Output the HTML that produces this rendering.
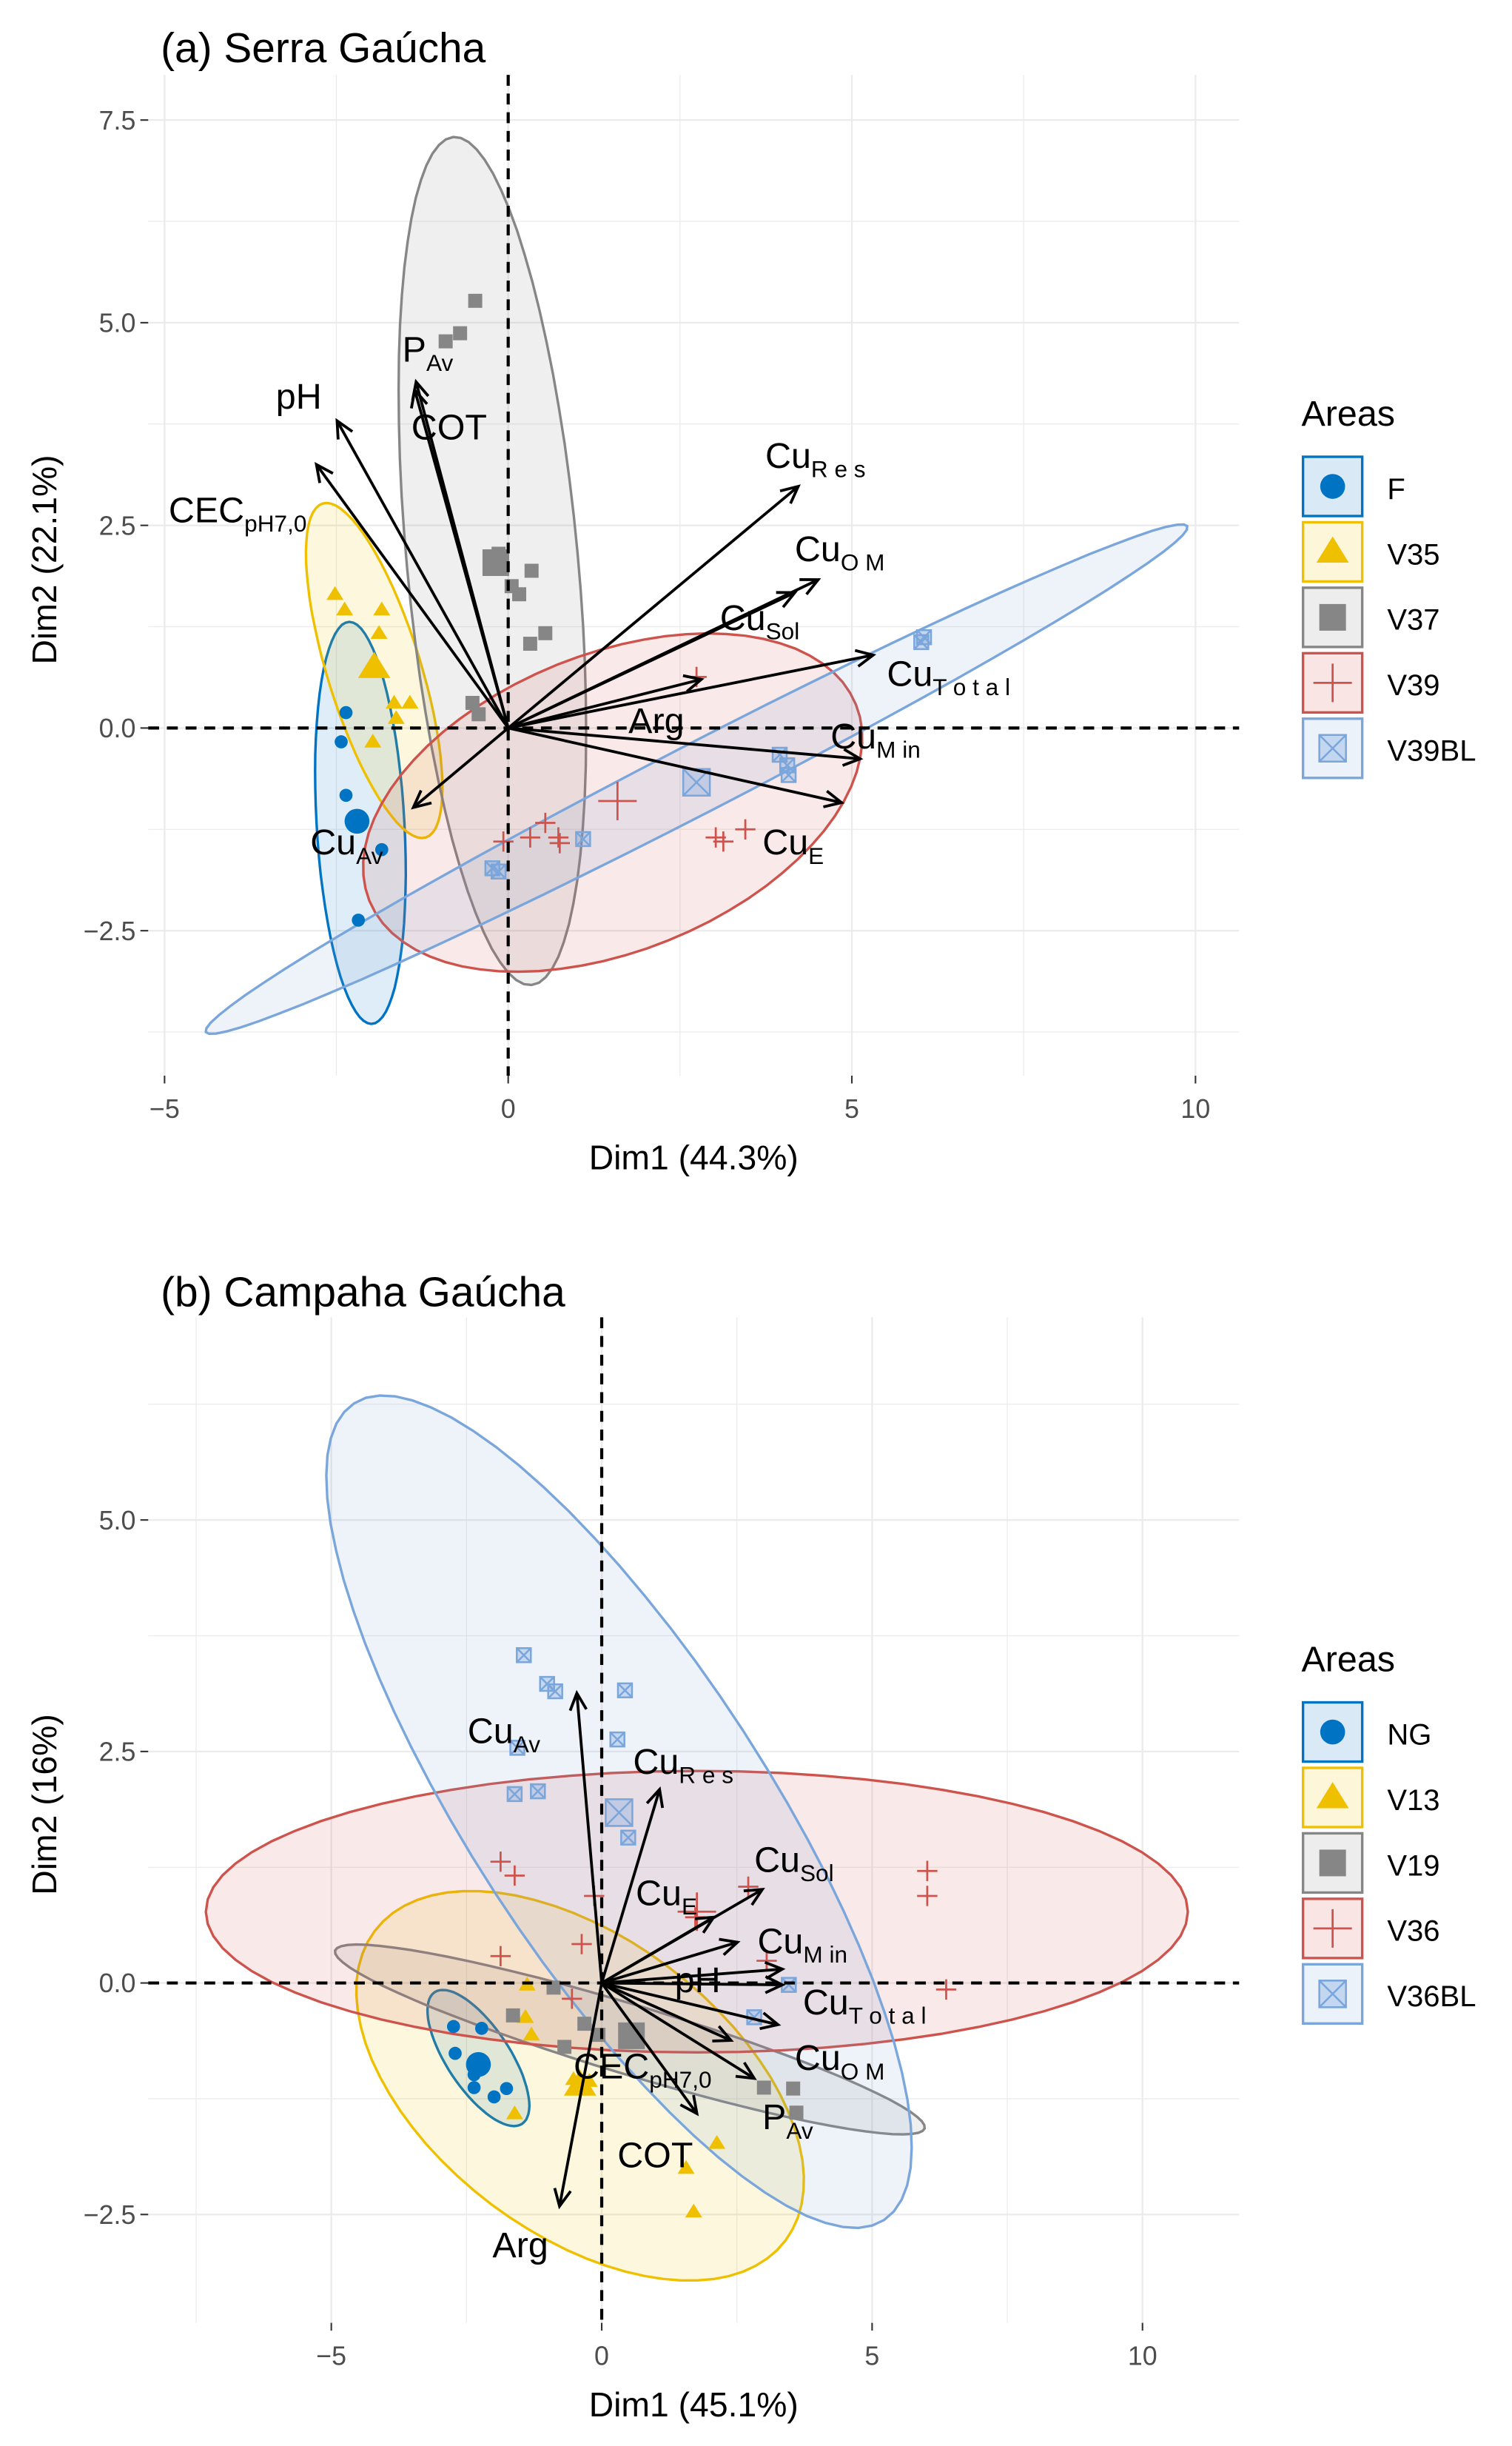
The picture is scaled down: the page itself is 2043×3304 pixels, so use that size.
<!DOCTYPE html>
<html><head><meta charset="utf-8"><style>
html,body{margin:0;padding:0;background:#fff}
svg{display:block;font-family:"Liberation Sans",sans-serif}
</style></head><body>
<svg id="s" width="2043" height="3304" viewBox="0 0 970 1569" xmlns="http://www.w3.org/2000/svg"></svg>
<script>
// ---------- DATA ----------
const groupsA=["F","V35","V37","V39","V39BL"];
const groupsB=["NG","V13","V19","V36","V36BL"];
const colors=["#0073C2","#EFC000","#868686","#CD534C","#7AA6DC"];
const shapes=["circle","triangle","square","cross","sqx"];
// panel A points [x,y]
const ptsA_F=[[-2.36,0.19],[-2.43,-0.17],[-2.36,-0.83],[-1.84,-1.50],[-2.18,-2.37]];
const ptsA_V35=[[-2.52,1.65],[-2.38,1.46],[-1.84,1.46],[-1.88,1.17],[-1.66,0.31],[-1.43,0.31],[-1.63,0.12],[-1.97,-0.17]];
const ptsA_V37=[[-0.48,5.27],[-0.70,4.87],[-0.91,4.77],[-0.14,2.15],[0.34,1.94],[0.05,1.75],[0.16,1.65],[0.54,1.17],[0.32,1.04],[-0.52,0.31],[-0.43,0.17]];
const ptsA_V39=[[2.74,0.63],[-0.07,-1.40],[0.32,-1.35],[0.54,-1.17],[0.73,-1.35],[0.75,-1.42],[3.02,-1.35],[3.13,-1.40],[3.45,-1.25]];
const ptsA_V39BL=[[6.01,1.06],[6.05,1.12],[3.95,-0.33],[4.06,-0.46],[4.08,-0.58],[1.09,-1.37],[-0.23,-1.73],[-0.14,-1.77]];
const meansA=[[-2.20,-1.15],[-1.95,0.75],[-0.18,2.04],[1.59,-0.90],[2.74,-0.67]];
// ellipses: center, axis vector 1, axis vector 2 (data units)
const ellA_center=[[-2.15,-1.17],[-1.95,0.71],[-0.23,2.06],[1.52,-0.92],[2.74,-0.63]];
const ellA_ax1=[[-0.16,2.48],[-0.75,2.06],[-0.57,5.23],[3.54,1.21],[7.14,3.12]];
const ellA_ax2=[[0.64,0],[0.65,0.17],[1.24,0.10],[0.81,-1.70],[0.23,-0.38]];
// variables arrows
const varsA=["pH","CEC","PAv","COT","CuRes","CuOM","CuSol","CuTotal","Arg","CuMin","CuE","CuAv"];
const arrA=[[-2.49,3.79],[-2.79,3.25],[-1.34,4.27],[-1.36,4.17],[4.22,2.98],[4.51,1.83],[4.17,1.67],[5.31,0.90],[2.81,0.60],[5.12,-0.38],[4.85,-0.92],[-1.38,-0.98]];
const labA=[[-3.38,3.94],[-4.94,2.54],[-1.54,4.52],[-1.41,3.56],[3.74,3.21],[4.17,2.06],[3.08,1.21],[5.51,0.52],[1.75,-0.06],[4.69,-0.25],[3.70,-1.56],[-2.88,-1.56]];
// panel B
const ptsB_NG=[[-2.74,-0.47],[-2.22,-0.49],[-2.71,-0.76],[-2.36,-1.13],[-1.99,-1.23],[-1.76,-1.14],[-2.36,-0.99]];
const ptsB_V13=[[-1.38,-0.02],[-1.41,-0.37],[-1.30,-0.56],[-0.52,-1.04],[-0.23,-1.06],[-1.61,-1.41],[2.13,-1.73],[1.56,-2.00],[1.70,-2.47]];
const ptsB_V19=[[-0.89,-0.05],[-1.64,-0.35],[-0.32,-0.44],[-0.06,-0.56],[-0.69,-0.69],[3.00,-1.13],[3.54,-1.14],[3.60,-1.40]];
const ptsB_V36=[[-1.87,1.31],[-1.61,1.16],[-0.14,0.94],[2.71,1.04],[1.73,0.71],[-0.37,0.42],[-1.87,0.29],[-0.55,-0.17],[3.05,0.24],[6.02,1.21],[6.02,0.94],[6.37,-0.07]];
const ptsB_V36BL=[[-1.44,3.54],[-1.01,3.23],[-0.86,3.15],[0.43,3.16],[-1.56,2.54],[0.29,2.63],[-1.61,2.04],[-1.18,2.07],[0.49,1.57],[3.46,-0.02],[2.82,-0.37]];
const meansB=[[-2.28,-0.88],[-0.40,-1.10],[0.55,-0.57],[1.76,0.77],[0.32,1.84]];
const ellB_center=[[-2.28,-0.81],[-0.40,-1.11],[0.52,-0.61],[1.76,0.77],[0.32,1.85]];
const ellB_ax1=[[0.81,-0.71],[3.80,-1.67],[5.45,-0.96],[9.08,0],[-4.90,4.41]];
const ellB_ax2=[[0.48,0.19],[-1.64,-1.28],[-0.18,-0.36],[0,1.52],[2.30,0.87]];
const varsB=["CuAv","CuRes","CuE","CuSol","CuMin","pH","CuTotal","CuOM","X","CEC","COT","Arg"];
const arrB=[[-0.46,3.13],[1.07,2.09],[2.07,0.71],[2.97,1.01],[2.51,0.44],[3.34,0.15],[3.34,-0.02],[3.26,-0.45],[2.39,-0.62],[2.82,-1.03],[1.76,-1.41],[-0.78,-2.41]];
const labNamesB=["CuAv","CuRes","CuE","CuSol","CuMin","pH","CuTotal","CuOM","CEC","PAv","COT","Arg"];
const labB=[[-2.48,2.59],[0.58,2.26],[0.63,0.84],[2.82,1.20],[2.88,0.32],[1.35,-0.10],[3.72,-0.34],[3.57,-0.94],[-0.52,-1.03],[2.97,-1.58],[0.29,-1.99],[-2.02,-2.96]];
const xTicksA=[-5,0,5,10], yTicksA=[-2.5,0,2.5,5,7.5];
const xTicksB=[-5,0,5,10], yTicksB=[-2.5,0,2.5,5];
const yTickLabA=["\u22122.5","0.0","2.5","5.0","7.5"];
const yTickLabB=["\u22122.5","0.0","2.5","5.0"];
const xTickLab=["\u22125","0","5","10"];

// ---------- RENDER ----------
const NS="http://www.w3.org/2000/svg", S=document.getElementById('s');
function mk(t,a,p){const e=document.createElementNS(NS,t);for(const k in a)e.setAttribute(k,a[k]);(p||S).appendChild(e);return e;}
const labelDefs={pH:["pH",""],CEC:["CEC","pH7,0"],PAv:["P","Av"],COT:["COT",""],CuRes:["Cu","R e s"],CuOM:["Cu","O M"],CuSol:["Cu","Sol"],CuTotal:["Cu","T o t a l"],Arg:["Arg",""],CuMin:["Cu","M in"],CuE:["Cu","E"],CuAv:["Cu","Av"]};

function panel(cfg){
  const g=mk('g',{});
  
  
  const X=d=>cfg.x0+cfg.kx*d, Y=d=>cfg.y0-cfg.ky*d;
  const L=cfg.L,R=cfg.R,T=cfg.T,B=cfg.B;
  const xmin=(L-cfg.x0)/cfg.kx,xmax=(R-cfg.x0)/cfg.kx,ymax=(cfg.y0-T)/cfg.ky,ymin=(cfg.y0-B)/cfg.ky;
  // grid
  for(let v=Math.ceil(xmin/2.5)*2.5;v<=xmax;v+=2.5){const maj=Math.abs(v%5)<1e-6;
    const l=mk('line',{x1:X(v),x2:X(v),y1:T,y2:B,stroke:'#ebebeb','stroke-width':maj?1.1:0.6},g);
    }
  for(let v=Math.ceil(ymin/1.25)*1.25;v<=ymax;v+=1.25){const maj=Math.abs(v%2.5)<1e-6;
    const l=mk('line',{x1:L,x2:R,y1:Y(v),y2:Y(v),stroke:'#ebebeb','stroke-width':maj?1.1:0.6},g);
    }
  // ellipses
  for(let i=0;i<5;i++){const c=cfg.ec[i],a=cfg.e1[i],b=cfg.e2[i];let d='';
    for(let k=0;k<=72;k++){const t=k/72*2*Math.PI;const px=X(c[0]+Math.cos(t)*a[0]+Math.sin(t)*b[0]),py=Y(c[1]+Math.cos(t)*a[1]+Math.sin(t)*b[1]);d+=(k?'L':'M')+px.toFixed(1)+','+py.toFixed(1);}
    const e=mk('path',{d:d+'Z',fill:colors[i],'fill-opacity':0.13,stroke:colors[i],'stroke-width':1.6},g);
    }
  // points
  cfg.pts.forEach((arr,i)=>{arr.forEach(p=>shape(g,shapes[i],X(p[0]),Y(p[1]),1,colors[i],cfg.groups[i]));
    shape(g,shapes[i],X(cfg.means[i][0]),Y(cfg.means[i][1]),1.9,colors[i],cfg.groups[i]);});
  // zero lines
  let z=mk('line',{x1:L,x2:R,y1:Y(0),y2:Y(0),stroke:'#000','stroke-width':2,'stroke-dasharray':'7,5'},g);
  
  z=mk('line',{x1:X(0),x2:X(0),y1:T,y2:B,stroke:'#000','stroke-width':2,'stroke-dasharray':'7,5'},g);
  
  // arrows
  cfg.arr.forEach((p,i)=>{const x1=X(0),y1=Y(0),x2=X(p[0]),y2=Y(p[1]);const ang=Math.atan2(y2-y1,x2-x1),h=12,w=0.45;
    const a=mk('path',{d:`M${x1},${y1}L${x2},${y2}M${x2-h*Math.cos(ang-w)},${y2-h*Math.sin(ang-w)}L${x2},${y2}L${x2-h*Math.cos(ang+w)},${y2-h*Math.sin(ang+w)}`,stroke:'#000','stroke-width':1.8,fill:'none'},g);
    });
  cfg.lab.forEach((p,i)=>{const ld=labelDefs[cfg.labNames[i]];
    const t=mk('text',{x:X(p[0]),y:Y(p[1]),'font-size':23,fill:'#000'},g);
    
    t.appendChild(document.createTextNode(ld[0]));
    if(ld[1]){const s=mk('tspan',{dy:6,'font-size':15},t);s.textContent=ld[1];}});
  // ticks
  cfg.xt.forEach((v,i)=>{mk('line',{x1:X(v),x2:X(v),y1:B,y2:B+5,stroke:'#333','stroke-width':1},g);
    const t=mk('text',{x:X(v),y:B+27,'text-anchor':'middle','font-size':17,fill:'#4d4d4d'},g);t.textContent=xTickLab[i];
    });
  cfg.yt.forEach((v,i)=>{mk('line',{x1:L-5,x2:L,y1:Y(v),y2:Y(v),stroke:'#333','stroke-width':1},g);
    const t=mk('text',{x:L-8,y:Y(v)+6,'text-anchor':'end','font-size':17,fill:'#4d4d4d'},g);t.textContent=cfg.ytl[i];
    });
  let t=mk('text',{x:(L+R)/2,y:B+60,'text-anchor':'middle','font-size':22,fill:'#000'},g);t.textContent=cfg.xtitle;
  
  t=mk('text',{x:0,y:0,transform:`translate(36,${(T+B)/2-10}) rotate(-90)`,'text-anchor':'middle','font-size':22,fill:'#000'},g);t.textContent=cfg.ytitle;
  
  t=mk('text',{x:103,y:cfg.titleY,'font-size':27,fill:'#000'},g);t.textContent=cfg.title;
  
  // legend
  const lg=mk('g',{},g);
  t=mk('text',{x:835,y:cfg.legY,'font-size':23,fill:'#000'},lg);t.textContent='Areas';
  
  cfg.groups.forEach((gname,i)=>{const y=cfg.legY+20+i*42;
    const r=mk('rect',{x:836,y:y,width:38,height:38,fill:colors[i],'fill-opacity':0.15,stroke:colors[i],'stroke-width':1.6},lg);
    
    shape(lg,shapes[i],855,y+19,1.9,colors[i],gname);
    const tt=mk('text',{x:890,y:y+27,'font-size':19,fill:'#000'},lg);tt.textContent=gname;
    });
}
function shape(g,s,x,y,k,c,gname){let e;
  if(s==='circle')e=mk('circle',{cx:x,cy:y,r:4.2*k,fill:c},g);
  else if(s==='triangle'){const r=5.2*k;e=mk('path',{d:`M${x},${y-r}L${x+r*1.05},${y+r*0.7}L${x-r*1.05},${y+r*0.7}Z`,fill:c},g);}
  else if(s==='square'){const r=4.5*k;e=mk('rect',{x:x-r,y:y-r,width:2*r,height:2*r,fill:c},g);}
  else if(s==='cross'){const r=6.5*k;e=mk('path',{d:`M${x-r},${y}H${x+r}M${x},${y-r}V${y+r}`,stroke:c,'stroke-width':1.3,fill:'none'},g);}
  else{const r=4.5*k;e=mk('path',{d:`M${x-r},${y-r}h${2*r}v${2*r}h${-2*r}ZM${x-r},${y-r}L${x+r},${y+r}M${x+r},${y-r}L${x-r},${y+r}`,stroke:c,'stroke-width':1.2,fill:c,'fill-opacity':0.35},g);}
  
  
}
panel({name:'panel-a-serra-gaucha',x0:326,kx:44.1,y0:467,ky:52,L:95,R:795,T:48,B:690,
  groups:groupsA,ec:ellA_center,e1:ellA_ax1,e2:ellA_ax2,pts:[ptsA_F,ptsA_V35,ptsA_V37,ptsA_V39,ptsA_V39BL],means:meansA,
  arr:arrA,vars:varsA,lab:labA,labNames:varsA,xt:xTicksA,yt:yTicksA,ytl:yTickLabA,
  xtitle:'Dim1 (44.3%)',ytitle:'Dim2 (22.1%)',title:'(a) Serra Gaúcha',titleY:40,legY:273});
panel({name:'panel-b-campanha-gaucha',x0:386,kx:34.7,y0:1272,ky:59.4,L:95,R:795,T:845,B:1490,
  groups:groupsB,ec:ellB_center,e1:ellB_ax1,e2:ellB_ax2,pts:[ptsB_NG,ptsB_V13,ptsB_V19,ptsB_V36,ptsB_V36BL],means:meansB,
  arr:arrB,vars:varsB,lab:labB,labNames:labNamesB,xt:xTicksB,yt:yTicksB,ytl:yTickLabB,
  xtitle:'Dim1 (45.1%)',ytitle:'Dim2 (16%)',title:'(b) Campaha Gaúcha',titleY:838,legY:1072});
</script>
</body></html>
